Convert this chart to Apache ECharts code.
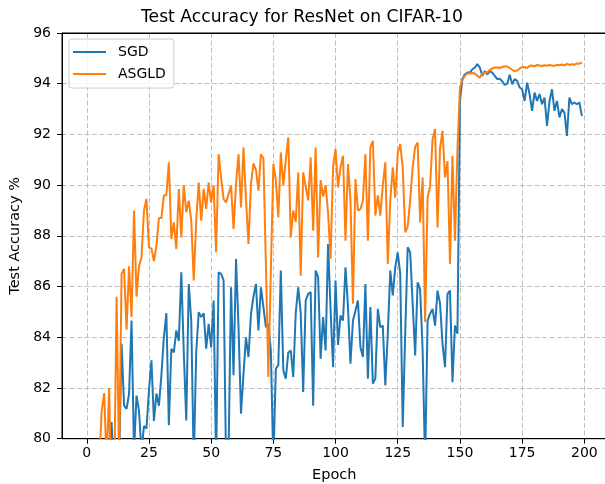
<!DOCTYPE html>
<html>
<head>
<meta charset="utf-8">
<title>Test Accuracy for ResNet on CIFAR-10</title>
<script src="https://cdn.jsdelivr.net/npm/echarts@6/dist/echarts.min.js"></script>
<style>
  html, body { margin: 0; padding: 0; background: #fff; }
  #chart { width: 605px; height: 484px; }
</style>
</head>
<body>
<div id="chart"></div>
<script>
// accuracy per epoch (index = epoch)
const sgdAcc = [
  45, 58, 65, 70, 72.5, 74.5, 76, 77, 78, 79,
  80.66, 78, 77.5, 79, 83.74, 81.3, 81.18, 81.77, 84.66, 79.5,
  81.7, 81.1, 79.5, 80.5, 80.4, 81.9, 83.09, 80.7, 81.78, 81.3,
  82.5, 84.0, 84.95, 80.53, 83.55, 83.4, 84.27, 83.85, 86.56, 83.4,
  80.72, 86.1, 84.66, 79, 83.4, 84.99, 84.8, 84.95, 83.55, 84.53,
  83.6, 85.45, 79, 86.56, 86.5, 86.24, 79, 79.5, 85.97, 82.5,
  87.09, 84.4, 80.99, 82.55, 84.0, 83.22, 84.9, 85.6, 86.1, 84.27,
  85.97, 85.2, 84.4, 84.53, 83.48, 79, 82.76, 82.9, 86.63, 82.7,
  82.37, 83.4, 83.48, 82.43, 84.95, 85.97, 84.95, 81.84, 85.45, 85.71,
  85.78, 81.3, 86.63, 86.37, 83.15, 84.8, 83.48, 87.68, 85.1, 82.82,
  86.24, 83.7, 84.86, 84.66, 86.76, 85.19, 82.96, 84.66, 85.05, 85.45,
  83.61, 83.22, 86.1, 82.37, 85.19, 82.17, 82.37, 85.12, 84.4, 84.46,
  82.1, 84.14, 86.63, 85.65, 86.76, 87.35, 86.5, 80.46, 84.14, 87.55,
  87.35, 85.32, 83.28, 86.17, 85.9, 83.5, 79, 84.66, 84.93, 85.12,
  84.46, 85.84, 85.32, 83.74, 82.82, 85.71, 85.84, 82.23, 84.46, 84.14,
  93.3, 94.2, 94.37, 94.44, 94.44, 94.57, 94.64, 94.77, 94.64, 94.31,
  94.5, 94.37, 94.5, 94.44, 94.31, 94.18, 94.2, 94.1, 93.95, 94.0,
  94.35, 93.98, 94.18, 94.11, 93.85, 93.78, 93.32, 94.04, 93.59, 92.93,
  93.65, 93.32, 93.59, 93.19, 93.45, 92.34, 93.32, 93.78, 92.93, 93.32,
  92.67, 93.0, 92.86, 91.94, 93.45, 93.19, 93.26, 93.19, 93.26, 92.73
];

const asgldAcc = [
  55, 64, 70, 73, 76, 79, 81.1, 81.8, 79, 82.0,
  77, 78, 85.6, 79, 86.5, 86.7, 84.3, 86.8, 84.8, 89.0,
  85.6, 86.8, 87.15, 89.0, 89.45, 87.55, 87.5, 87.0, 87.6, 88.7,
  88.7, 89.6, 89.6, 90.9, 87.88, 88.53, 87.48, 89.85, 87.94, 89.98,
  88.93, 89.39, 88.6, 86.24, 88.6, 90.1, 88.6, 89.85, 89.06, 90.1,
  89.32, 89.98, 87.35, 91.22, 90.3, 89.45, 89.32, 89.65, 89.98, 88.27,
  90.04, 91.22, 89.12, 91.48, 89.45, 87.68, 90.04, 90.86, 90.6, 89.78,
  91.22, 91.06, 86.9, 82.43, 86.6, 90.83, 90.2, 88.73, 91.29, 90.0,
  91.0, 91.88, 87.94, 89.0, 88.55, 90.5, 86.43, 90.5, 89.95, 89.4,
  91.09, 88.2, 91.48, 87.15, 90.2, 89.55, 90.0, 88.9, 87.09, 90.7,
  91.42, 89.91, 90.7, 91.16, 87.81, 90.83, 89.4, 85.32, 90.24, 89.0,
  89.05, 89.4, 91.22, 87.81, 91.5, 91.75, 88.8, 89.6, 88.8, 90.0,
  90.9, 86.89, 89.4, 90.7, 89.5, 91.25, 91.62, 90.7, 88.14, 88.36,
  89.4, 90.7, 91.5, 91.68, 88.53, 90.3, 84.6, 89.52, 89.95, 91.81,
  92.21, 88.33, 91.45, 92.14, 90.3, 90.95, 86.89, 91.16, 87.81, 91.4,
  93.85, 94.15, 94.31, 94.4, 94.4, 94.42, 94.4, 94.31, 94.24, 94.4,
  94.44, 94.44, 94.55, 94.6, 94.64, 94.64, 94.62, 94.66, 94.68, 94.68,
  94.62, 94.55, 94.5, 94.52, 94.6, 94.65, 94.66, 94.62, 94.7, 94.72,
  94.68, 94.74, 94.72, 94.7, 94.73, 94.71, 94.74, 94.72, 94.7, 94.75,
  94.73, 94.76, 94.72, 94.78, 94.74, 94.77, 94.75, 94.8, 94.79, 94.84
];

const xTicks = [0, 25, 50, 75, 100, 125, 150, 175, 200];
const seriesNames = ['SGD', 'ASGLD'];

const font = 'DejaVu Sans';
const gridDash = { color: '#b0b0b0', width: 0.8, type: [5, 2.5] };

const chart = echarts.init(document.getElementById('chart'), null, { renderer: 'canvas' });

chart.setOption({
  animation: false,
  color: ['#1f77b4', '#ff7f0e'],
  title: {
    text: 'Test Accuracy for ResNet on CIFAR-10',
    left: 141,
    top: 9,
    padding: 0,
    textStyle: { fontFamily: font, fontSize: 17.2, fontWeight: 'normal', color: '#000' }
  },
  legend: {
    data: seriesNames,
    orient: 'vertical',
    left: 69,
    top: 39,
    icon: 'rect',
    itemWidth: 33,
    itemHeight: 2,
    itemGap: 6,
    padding: [5, 8, 6, 4],
    borderColor: '#cccccc',
    borderWidth: 1,
    borderRadius: 3,
    backgroundColor: 'rgba(255,255,255,0.8)',
    textStyle: { fontFamily: font, fontSize: 14, lineHeight: 16, color: '#000', padding: [0, 0, 0, 7] }
  },
  grid: {
    show: true,
    left: 62,
    top: 33,
    width: 544.6,
    height: 405.7,
    outerBoundsMode: 'none',
    borderColor: '#000',
    borderWidth: 1,
    backgroundColor: 'transparent'
  },
  xAxis: [
    {
      type: 'value',
      min: -9.95,
      max: 208.95,
      minInterval: 25,
      maxInterval: 25,
      name: 'Epoch',
      nameLocation: 'middle',
      nameGap: 29,
      nameTextStyle: { fontFamily: font, fontSize: 14.5, color: '#000' },
      axisLine: { onZero: false, lineStyle: { color: '#000', width: 1 } },
      axisTick: { customValues: xTicks, length: 5, lineStyle: { color: '#000' } },
      axisLabel: { customValues: xTicks, margin: 8, fontFamily: font, fontSize: 14, color: '#000' },
      splitLine: { show: true, lineStyle: gridDash }
    },
    {
      // top spine only
      type: 'value',
      position: 'top',
      min: -9.95,
      max: 208.95,
      axisLine: { show: true, onZero: false, lineStyle: { color: '#000', width: 1 } },
      axisTick: { show: false },
      axisLabel: { show: false },
      splitLine: { show: false }
    }
  ],
  yAxis: {
    type: 'value',
    min: 80,
    max: 96,
    interval: 2,
    name: 'Test Accuracy %',
    nameLocation: 'middle',
    nameGap: 33.5,
    nameTextStyle: { fontFamily: font, fontSize: 14.5, color: '#000' },
    axisLine: { show: true, onZero: false, lineStyle: { color: '#000', width: 1 } },
    axisTick: { show: true, length: 5, lineStyle: { color: '#000' } },
    axisLabel: { margin: 11, fontFamily: font, fontSize: 14, color: '#000' },
    splitLine: { show: true, lineStyle: gridDash }
  },
  series: [
    {
      name: seriesNames[0],
      type: 'line',
      data: sgdAcc.map((v, i) => [i, v]),
      showSymbol: false,
      clip: true,
      lineStyle: { width: 2 }
    },
    {
      name: seriesNames[1],
      type: 'line',
      data: asgldAcc.map((v, i) => [i, v]),
      showSymbol: false,
      clip: true,
      lineStyle: { width: 2 }
    }
  ]
});
</script>
</body>
</html>
